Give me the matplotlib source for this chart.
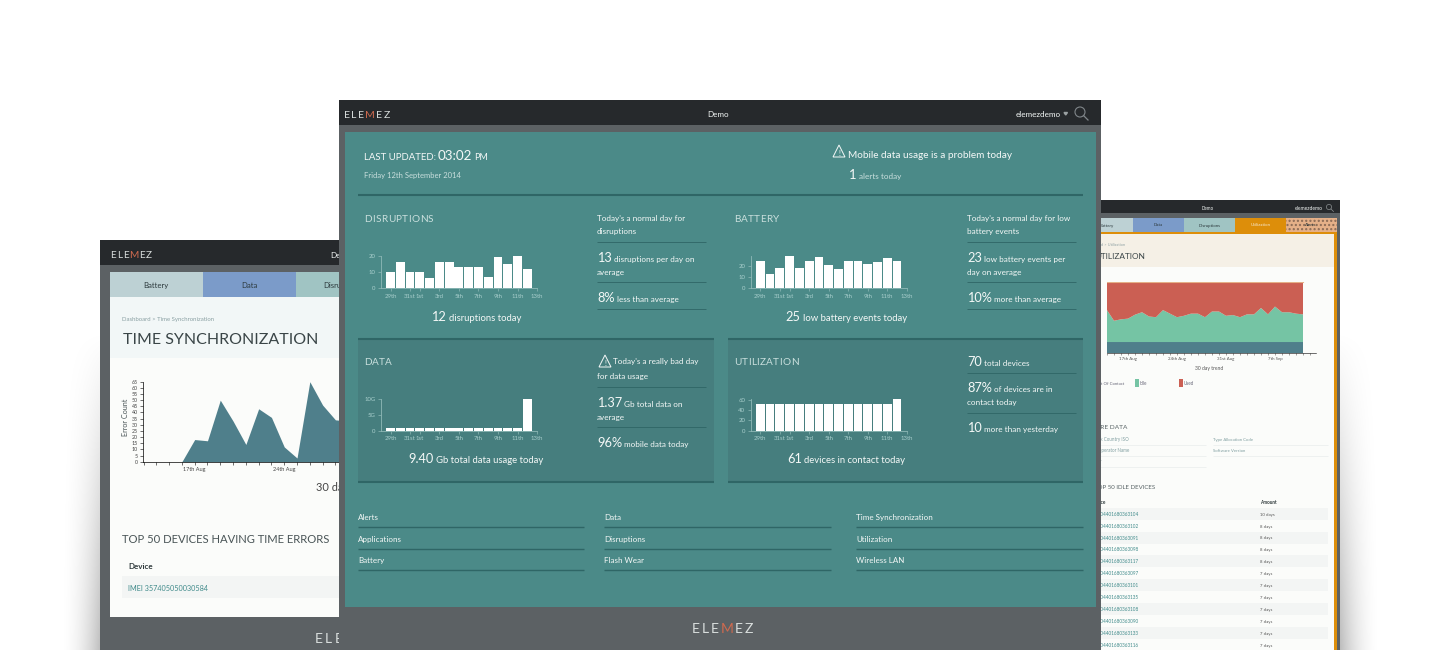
"""Elemez dashboard montage: three overlapping browser windows with small charts."""
import matplotlib
matplotlib.use("Agg")
import matplotlib.pyplot as plt
import numpy as np
from matplotlib.colors import to_rgb
from matplotlib.patches import Circle, Polygon, Rectangle

W, H = 1440, 650

# ---- data ----
day_labels = ["29th", "31st", "1st", "3rd", "5th", "7th", "9th", "11th", "13th"]
day_ticks = [0, 2, 3, 5, 7, 9, 11, 13, 15]

disruptions = [10, 16, 10, 10, 6, 16, 16, 13, 13, 13, 7, 19, 15, 20, 12]
battery = [25, 13, 18, 29, 18, 25, 28, 21, 17, 25, 25, 22, 24, 27, 25]
data_usage = [0.8, 0.8, 0.8, 0.8, 0.8, 0.8, 0.8, 0.8, 0.8, 0.8, 0.8, 0.8, 0.8, 0.8, 10]
utilization = [51, 51, 51, 51, 51, 51, 51, 51, 51, 51, 51, 51, 51, 51, 61]

time_errors = [0, 0, 0, 0, 18, 17, 50, 33, 14, 43, 36, 12, 3, 65, 46, 34, 33, 30]
time_ticks = [4, 11]
time_labels = ["17th Aug", "24th Aug"]
error_ticks = list(range(0, 70, 5))

out_of_contact = [15] * 29
idle = [45, 30, 32, 33, 38.5, 42, 36, 35, 45, 40, 35, 37, 40, 40, 35, 43, 43, 37, 38, 35,
        39, 39, 48, 39, 50, 42, 42, 40, 39]
used = [40, 55, 53, 52, 46.5, 43, 49, 50, 40, 45, 50, 48, 45, 45, 50, 42, 42, 48, 47, 50,
        46, 46, 37, 46, 35, 43, 43, 45, 46]
trend_ticks = [3, 10, 17, 24]
trend_labels = ["17th Aug", "24th Aug", "31st Aug", "7th Sep"]

idle_imei = ["3104", "3102", "3091", "3098", "3117", "3097", "3101", "3135", "3108", "3090",
             "3133", "3116"]
idle_days = [10, 8, 8, 8, 8, 7, 7, 7, 7, 7, 7, 7]

# ---- colours ----
TEAL = "#4b8a88"
TEAL_DARK = "#467e7e"
RULE = "#2f6666"
FRAME = "#5c6164"
HEADER = "#26292c"
WHITE = "#f4f8f7"
SOFT = "#c9dfdd"
AXIS = "#8fb9b7"
AREA = "#4f7f8b"

LATO = ["Lato", "DejaVu Sans"]

plt.rcParams["font.family"] = LATO
fig = plt.figure(figsize=(W / 100, H / 100), dpi=100, facecolor="white")


def px_layer(z):
    ax = fig.add_axes([0, 0, 1, 1], zorder=z)
    ax.patch.set_alpha(0)
    ax.axis("off")
    return ax


def finish(ax):
    ax.set_xlim(0, W)
    ax.set_ylim(H, 0)


def rect(ax, x0, y0, x1, y1, color, **kw):
    ax.add_patch(Rectangle((x0, y0), x1 - x0, y1 - y0, facecolor=color, edgecolor="none", **kw))


def gradient(ax, x0, y0, x1, y1, top, bottom):
    ramp = np.linspace(0, 1, 64)[:, None, None]
    img = (1 - ramp) * np.array(to_rgb(top)) + ramp * np.array(to_rgb(bottom))
    ax.imshow(img, extent=(x0, x1, y1, y0), aspect="auto", interpolation="bilinear")


def label(ax, x, y, s, px=10, color=WHITE, ha="left", **kw):
    return ax.text(x, y, s, fontsize=px * 0.72, color=color, ha=ha, va="baseline", **kw)


def runs(ax, x, y, parts, color=WHITE, center=False):
    """Mixed-size text on one baseline: parts is a list of (string, px size, colour or None)."""
    renderer = fig.canvas.get_renderer()
    pieces = []
    cur = x
    for s, px, col in parts:
        t = label(ax, cur, y, s, px=px, color=col or color)
        width = t.get_window_extent(renderer).width
        pieces.append((t, cur))
        cur += width + px * 0.18
    if center:
        shift = (cur - x) / 2
        for t, pos in pieces:
            t.set_x(pos - shift)


def spaced(ax, x, y, s, px, gap, color=WHITE, colors=None):
    """Letter-spaced capitals, placed one character at a time."""
    renderer = fig.canvas.get_renderer()
    cur = x
    for i, ch in enumerate(s):
        t = label(ax, cur, y, ch, px=px, color=colors[i] if colors else color)
        cur += t.get_window_extent(renderer).width + gap if ch != " " else px * 0.3 + gap


def logo(ax, x, y, px, gap):
    spaced(ax, x, y, "ELEMEZ", px, gap, colors=["#d9dedd", "#d9dedd", "#d9dedd", "#cf6a4f", "#d9dedd", "#d9dedd"])


def warn(ax, x0, y0, size):
    ax.add_patch(Polygon([(x0, y0 + size), (x0 + size / 2, y0), (x0 + size, y0 + size)],
                         closed=True, fill=False, edgecolor=WHITE, linewidth=0.7))
    label(ax, x0 + size / 2, y0 + size - 1.5, "!", px=size * 0.6, ha="center")


def hline(ax, x0, x1, y, color=RULE, lw=0.8):
    ax.plot([x0, x1], [y, y], color=color, linewidth=lw, solid_capstyle="butt")


def box_axes(x0, y0, x1, y1, z):
    ax = fig.add_axes([x0 / W, 1 - y1 / H, (x1 - x0) / W, (y1 - y0) / H], zorder=z)
    ax.patch.set_alpha(0)
    return ax


def bar_chart(origin, y_zero, y_top, values, ymax, yticks, ylabels):
    step = 9.77
    ax = box_axes(origin - 9.6, y_top, origin + 15 * step, y_zero, 5)
    ax.bar(range(len(values)), values, width=0.9, color="white", edgecolor="none")
    ax.set_xlim(-9.6 / step, 15)
    ax.set_ylim(0, ymax)
    ax.set_xticks(day_ticks, day_labels)
    ax.set_yticks(yticks, ylabels)
    ax.tick_params(axis="both", length=2.5, width=0.5, color=AXIS, labelcolor="#a9cfcd",
                   labelsize=4.3, pad=1.5)
    for side in ("top", "right"):
        ax.spines[side].set_visible(False)
    for side in ("left", "bottom"):
        ax.spines[side].set_color(AXIS)
        ax.spines[side].set_linewidth(0.6)
    return ax


# ---- soft shadow behind the windows ----
back = px_layer(0)
yy, xx = np.mgrid[0:H, 0:W]
dist_left = np.clip(100 - xx, 0, None)
dist_right = np.clip(xx - 1340, 0, None)
side = np.where(xx < 720, dist_left, dist_right)
strength = np.clip((yy - 330) / 320, 0, 1) * np.clip(1 - side / 42, 0, 1) ** 2 * 0.26
shadow = np.zeros((H, W, 4))
shadow[..., 3] = strength
back.imshow(shadow, extent=(0, W, H, 0), aspect="auto")

# ---- left window ----
rect(back, 100, 240, 345, 650, FRAME)
rect(back, 100, 240, 345, 265, HEADER)
logo(back, 110, 258, 10, 1.0)
label(back, 330, 258, "Demo", px=8, color=WHITE)
rect(back, 110, 272, 203, 297, "#bdd1d4")
rect(back, 203, 272, 296, 297, "#7b9bc9")
rect(back, 296, 272, 345, 297, "#a0c4c3")
label(back, 156, 288, "Battery", px=7.8, color="#2d3a3d", ha="center")
label(back, 249, 288, "Data", px=7.8, color="#2d3a3d", ha="center")
label(back, 323, 288, "Disruptions", px=7.8, color="#2d3a3d")
rect(back, 110, 297, 345, 358, "#f2f7f7")
rect(back, 110, 358, 345, 617, "#fbfcfa")
label(back, 122, 321, "Dashboard > Time Synchronization", px=6, color="#8aa0a3")
label(back, 123, 344, "TIME SYNCHRONIZATION", px=16, color="#3a4547")
label(back, 316, 491, "30 day trend", px=11, color="#444")
label(back, 122, 543, "TOP 50 DEVICES HAVING TIME ERRORS", px=11.3, color="#4a5557")
label(back, 128, 569, "Device", px=8, color="#2f3a3c", fontweight="bold")
rect(back, 122, 576, 345, 598, "#f3f5f4")
label(back, 128, 591, "IMEI 357405050030584", px=7.3, color="#3f8a8a")
spaced(back, 315, 643, "ELE", 14, 2.2, color="#d9dedd")
back.text(125.5, 417, "Error Count", rotation=90, fontsize=5.2, color="#4a5557", ha="center", va="center")

err_ax = box_axes(143, 381.7, 361, 461.7, 1)
err_ax.fill_between(range(len(time_errors)), time_errors, 0, color=AREA, linewidth=0)
err_ax.set_xlim(-0.04, 17)
err_ax.set_ylim(0, 65)
err_ax.xaxis.remove_overlapping_locs = False
err_ax.set_xticks(range(0, 18), [""] * 18)
err_ax.set_xticks(time_ticks, time_labels, minor=True)
err_ax.set_yticks(error_ticks, [str(v) for v in error_ticks])
err_ax.tick_params(axis="both", which="major", length=2.5, width=0.5, color="#333", labelcolor="#444",
                   labelsize=3.8, pad=1)
err_ax.tick_params(axis="x", which="minor", length=0, labelcolor="#444", labelsize=4, pad=4)
err_ax.spines[["top", "right"]].set_visible(False)
err_ax.spines[["left", "bottom"]].set_linewidth(0.5)

# ---- right window ----
rect(back, 1088, 200, 1340, 650, FRAME)
rect(back, 1088, 200, 1340, 213, HEADER)
label(back, 1208, 210, "Demo", px=4.5, ha="center")
label(back, 1295, 210, "elemezdemo", px=5)
back.add_patch(Circle((1329, 207), 2.6, fill=False, edgecolor="#8b9092", linewidth=0.5))
back.plot([1331, 1333.5], [209, 211.5], color="#8b9092", linewidth=0.5)
tabs = [(1088, 1133, "#bdd1d4", "Battery", 1107), (1133, 1184, "#7b9bc9", "Data", 1158.5),
        (1184, 1235, "#a0c4c3", "Disruptions", 1209.5), (1235, 1286, "#dd8e0a", "Utilization", 1260.5),
        (1286, 1336.5, "#e5b088", "Alerts", 1311)]
for x0, x1, col, name, xc in tabs:
    rect(back, x0, 217.5, x1, 232, col)
    label(back, xc, 226.5, name, px=4.4,
          color="#f6ead5" if name == "Utilization" else "#2d3a3d", ha="center")
back.add_patch(Rectangle((1286, 217.5), 50.5, 14.5, fill=False, edgecolor="#8a6a55", linewidth=0, hatch="...."))
rect(back, 1088, 232, 1336.5, 650, "#dd8e0a")
rect(back, 1088, 234, 1334, 267, "#f5f0e6")
rect(back, 1088, 267, 1334, 650, "#fbfcfa")
label(back, 1125, 246, "Dashboard > Utilization", px=4, color="#93a4a6", ha="right")
label(back, 1145, 259, "UTILIZATION", px=8.3, color="#3a4547", ha="right")
label(back, 1209, 370, "30 day trend", px=5, color="#555", ha="center")
label(back, 1124, 385, "Out Of Contact", px=4.3, color="#667", ha="right")
rect(back, 1135, 379, 1139, 387, "#75c4a4")
label(back, 1140, 385, "Idle", px=4.5, color="#667")
rect(back, 1179, 379, 1183, 387, "#cb5f53")
label(back, 1184, 385, "Used", px=4.5, color="#667")

label(back, 1127, 429, "MORE DATA", px=6.5, color="#5a6567", ha="right")
for y, left_text, right_text in [(441, "Network Country ISO", "Type Allocation Code"),
                                 (452, "Network Operator Name", "Software Version"),
                                 (463, "Country", None)]:
    label(back, 1129 if right_text else 1102, y, left_text, px=4.5, color="#7f9ea0", ha="right")
    hline(back, 1088, 1206, y + 4, color="#eef1f0", lw=0.7)
    if right_text:
        label(back, 1213, y, right_text, px=4.2, color="#7f9ea0")
        hline(back, 1213, 1328, y + 4, color="#eef1f0", lw=0.7)
label(back, 1155, 489, "TOP 50 IDLE DEVICES", px=6.2, color="#5a6567", ha="right")
label(back, 1106, 503.5, "Device", px=4.8, color="#2f3a3c", ha="right", fontweight="bold")
label(back, 1260, 503.5, "Amount", px=4.6, color="#2f3a3c", fontweight="bold")
for i, (imei, days) in enumerate(zip(idle_imei, idle_days)):
    y = 513.7 + i * 11.9
    if i % 2 == 0:
        rect(back, 1088, y - 6, 1328, y + 6, "#f3f5f4")
    label(back, 1138, y + 2, "IMEI 00440168036" + imei, px=4.6, color="#3f8a8a", ha="right")
    label(back, 1260, y + 2, f"{days} days", px=4.2, color="#555")
finish(back)

trend_ax = box_axes(1107, 281.7, 1316, 352.7, 1)
trend_ax.stackplot(range(29), out_of_contact, idle, used,
                   colors=[AREA, "#75c4a4", "#cb5f53"], linewidth=0)
trend_ax.plot(range(29), [100] * 29, color="#e5b088", linewidth=0.8)
trend_ax.set_xlim(0, 209 / 7)
trend_ax.set_ylim(0, 100)
trend_ax.set_yticks([])
trend_ax.xaxis.remove_overlapping_locs = False
trend_ax.set_xticks(range(30), [""] * 30)
trend_ax.set_xticks(trend_ticks, trend_labels, minor=True)
trend_ax.tick_params(axis="x", which="major", length=1.5, width=0.4, color="#555")
trend_ax.tick_params(axis="x", which="minor", length=0, labelsize=3.2, labelcolor="#555", pad=3)
trend_ax.spines[["top", "right", "left"]].set_visible(False)
trend_ax.spines["bottom"].set_linewidth(0.4)

# ---- front window ----
front = px_layer(3)
rect(front, 339, 100, 1101, 650, FRAME)
rect(front, 339, 100, 1101, 125, HEADER)
gradient(front, 339, 607, 1101, 650, "#63676a", "#4d5153")
rect(front, 345, 132, 1096, 607, TEAL)
rect(front, 358, 339, 714, 481, TEAL_DARK)
rect(front, 728, 339, 1083, 481, TEAL_DARK)
logo(front, 344, 118, 10.5, 1.2)
label(front, 718, 117, "Demo", px=8, ha="center")
label(front, 1016, 117, "elemezdemo", px=8.1)
front.add_patch(Polygon([(1064, 112.5), (1067.5, 112.5), (1065.7, 115)], closed=True, color="#9aa0a2"))
front.add_patch(Circle((1080, 112), 5, fill=False, edgecolor="#80868a", linewidth=0.8))
front.plot([1083.5, 1088], [115.5, 120], color="#80868a", linewidth=0.9)

runs(front, 364, 160, [("LAST UPDATED:", 9.6, None), ("03:02", 13.5, None), ("PM", 9, None)])
label(front, 364, 178, "Friday 12th September 2014", px=7.7, color=SOFT)
warn(front, 833, 145, 12)
label(front, 848, 158, "Mobile data usage is a problem today", px=10)
runs(front, 849, 179, [("1", 13, None), ("alerts today", 8.2, SOFT)])

hline(front, 358, 1083, 195, lw=1.5)
for a, b in [(358, 714), (728, 1083)]:
    hline(front, a, b, 338.5, lw=1.5)
    hline(front, a, b, 481.5, lw=1.5)

spaced(front, 364, 222, "DISRUPTIONS", 10, 0.4, color=SOFT)
spaced(front, 734, 222, "BATTERY", 10, 0.4, color=SOFT)
spaced(front, 364, 365, "DATA", 10, 0.4, color=SOFT)
spaced(front, 734, 365, "UTILIZATION", 10, 0.4, color=SOFT)

BODY, BIG = 8.2, 12.8
CAPTION = 9.5

# disruptions column
label(front, 597, 221, "Today's a normal day for", px=BODY)
label(front, 597, 234, "disruptions", px=BODY)
hline(front, 597, 706, 241.5, lw=0.6)
runs(front, 597, 262, [("13", BIG, None), ("disruptions per day on", BODY, None)])
label(front, 597, 275, "average", px=BODY)
hline(front, 597, 706, 282, lw=0.6)
runs(front, 597, 302, [("8%", BIG, None), ("less than average", BODY, None)])
hline(front, 597, 706, 308.5, lw=0.6)
runs(front, 477, 321, [("12", BIG, None), ("disruptions today", CAPTION, None)], center=True)

# battery column
label(front, 967, 221, "Today's a normal day for low", px=BODY)
label(front, 967, 234, "battery events", px=BODY)
hline(front, 967, 1076, 241.5, lw=0.6)
runs(front, 967, 262, [("23", BIG, None), ("low battery events per", BODY, None)])
label(front, 967, 275, "day on average", px=BODY)
hline(front, 967, 1076, 282, lw=0.6)
runs(front, 967, 302, [("10%", BIG, None), ("more than average", BODY, None)])
hline(front, 967, 1076, 308.5, lw=0.6)
runs(front, 847, 321, [("25", BIG, None), ("low battery events today", CAPTION, None)], center=True)

# data column
warn(front, 599, 355, 12)
label(front, 613, 364, "Today's a really bad day", px=BODY)
label(front, 597, 379, "for data usage", px=BODY)
hline(front, 597, 706, 386.5, lw=0.6)
runs(front, 597, 407, [("1.37", BIG, None), ("Gb total data on", BODY, None)])
label(front, 597, 420, "average", px=BODY)
hline(front, 597, 706, 427, lw=0.6)
runs(front, 597, 447, [("96%", BIG, None), ("mobile data today", BODY, None)])
runs(front, 477, 463, [("9.40", BIG, None), ("Gb total data usage today", CAPTION, None)], center=True)

# utilization column
runs(front, 967, 366, [("70", BIG, None), ("total devices", BODY, None)])
hline(front, 967, 1076, 372.5, lw=0.6)
runs(front, 967, 392, [("87%", BIG, None), ("of devices are in", BODY, None)])
label(front, 967, 405.5, "contact today", px=BODY)
hline(front, 967, 1076, 413, lw=0.6)
runs(front, 967, 432, [("10", BIG, None), ("more than yesterday", BODY, None)])
runs(front, 847, 463, [("61", BIG, None), ("devices in contact today", CAPTION, None)], center=True)

# link lists
links = [(358, 584, ["Alerts", "Applications", "Battery"]),
         (604, 831, ["Data", "Disruptions", "Flash Wear"]),
         (856, 1083, ["Time Synchronization", "Utilization", "Wireless LAN"])]
for x0, x1, names in links:
    for y, name in zip([520, 542, 563], names):
        label(front, x0, y, name, px=8)
        hline(front, x0, x1, y + 7, lw=1)

logo(front, 692, 633, 14, 1.8)
finish(front)

bar_chart(390.5, 288, 255.7, disruptions, 20, [0, 10, 20], ["0", "10", "20"])
bar_chart(760.3, 288, 255.7, battery, 29.4, [0, 10, 20], ["0", "10", "20"])
bar_chart(390.5, 430.7, 399, data_usage, 10, [0, 5, 10], ["0", "5G", "10G"])
bar_chart(760.3, 430.7, 399.2, utilization, 61, [0, 20, 40, 60], ["0", "20", "40", "60"])

fig.savefig("out.png", dpi=100)
